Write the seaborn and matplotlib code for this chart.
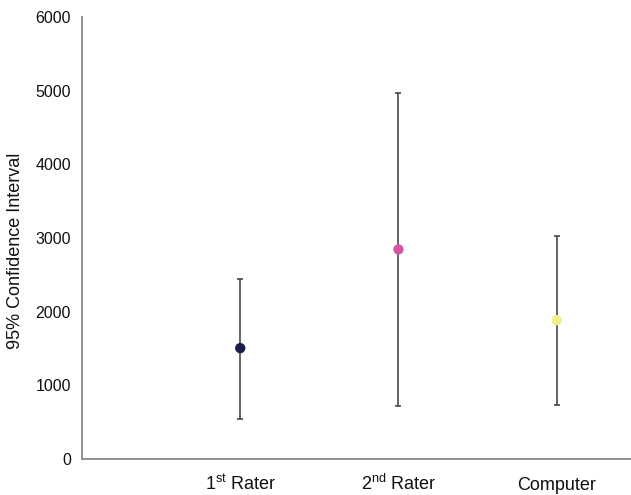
import matplotlib
matplotlib.use("Agg")
import matplotlib.pyplot as plt
import seaborn as sns
import pandas as pd
import numpy as np

# values
raters = [r"1$^{\mathrm{st}}$ Rater", r"2$^{\mathrm{nd}}$ Rater", "Computer"]
means = [1505, 2845, 1885]
lower = [545, 715, 730]
upper = [2440, 4970, 3025]
colors = ["#1b1b4d", "#d455a3", "#eeee8c"]

df = pd.DataFrame({"rater": raters, "mean": means, "low": lower, "high": upper})

sns.set_style("white")
plt.rcParams["font.family"] = ["Liberation Sans", "DejaVu Sans"]
plt.rcParams["mathtext.fontset"] = "custom"
plt.rcParams["mathtext.rm"] = "Liberation Sans"

fig = plt.figure(figsize=(6.31, 4.95), dpi=100)
ax = fig.add_axes([0.130, 0.0727, 0.870, 0.893])

xpos = np.arange(len(df)) + 1
ax.errorbar(xpos, df["mean"],
            yerr=[df["mean"] - df["low"], df["high"] - df["mean"]],
            fmt="none", ecolor="#3a3a3a", elinewidth=1.1, capsize=2.5, capthick=1.1, zorder=2)
sns.scatterplot(x=xpos, y=df["mean"], hue=df["rater"], palette=colors,
                s=55, edgecolor="none", legend=False, ax=ax, zorder=3)

ax.set_xlim(0, 3.47)
ax.set_ylim(0, 6000)
ax.set_yticks(range(0, 6001, 1000))
ax.set_xticks(xpos)
ax.set_xticklabels(df["rater"], fontsize=13, va="baseline")
ax.tick_params(axis="both", length=0, colors="#111111")
ax.tick_params(axis="y", labelsize=11.5, pad=8)
ax.tick_params(axis="x", pad=22)
ax.set_xlabel("")
ax.set_ylabel("95% Confidence Interval", fontsize=13, color="#111111")
ax.yaxis.set_label_coords(-0.105, 0.47)

for s in ["top", "right"]:
    ax.spines[s].set_visible(False)
for s in ["left", "bottom"]:
    ax.spines[s].set_color("#888888")
    ax.spines[s].set_linewidth(1.3)

fig.savefig("out.png", dpi=100)
